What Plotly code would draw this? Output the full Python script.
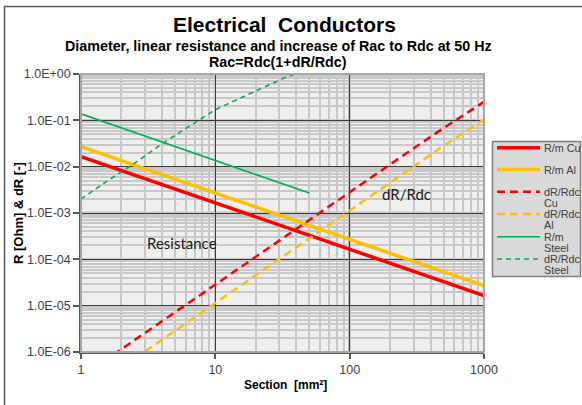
import plotly.graph_objects as go

# ---------------- data ----------------
sec_rm = [1, 2.5, 10, 25, 100, 250, 1000]
rm_cu = [1.65e-2, 6.6e-3, 1.65e-3, 6.6e-4, 1.65e-4, 6.6e-5, 1.65e-5]
rm_al = [2.7e-2, 1.08e-2, 2.7e-3, 1.08e-3, 2.7e-4, 1.08e-4, 2.7e-5]

sec_dr = [1, 10, 100, 300, 500, 1000]
dr_cu = [2.9e-7, 2.9e-5, 2.9e-3, 2.5e-2, 6.8e-2, 0.25]
dr_al = [1.15e-7, 1.15e-5, 1.1e-3, 1.0e-2, 2.8e-2, 0.105]

sec_st = [1, 1.5, 2.5, 4, 6, 10, 16, 25, 35, 50]
rm_st = [0.138, 0.092, 0.055, 0.0345, 0.023, 0.0138, 0.0086, 0.0055, 0.0039, 0.0027]
dr_st = [0.002, 0.0045, 0.0118, 0.031, 0.066, 0.17, 0.32, 0.58, 0.9, 1.25]

y_tickvals = [1e-6, 1e-5, 1e-4, 1e-3, 1e-2, 1e-1, 1]
y_ticktext = ["1.0E-06", "1.0E-05", "1.0E-04", "1.0E-03", "1.0E-02", "1.0E-01", "1.0E+00"]
x_tickvals = [1, 10, 100, 1000]
x_ticktext = ["1", "10", "100", "1000"]

legend_names = [["R/m Cu"], ["R/m Al"], ["dR/Rdc", "Cu"], ["dR/Rdc", "Al"],
                ["R/m", "Steel"], ["dR/Rdc", "Steel"]]

# ---------------- styles ----------------
RED = "#FF0000"
YEL = "#FFC000"
GRN = "#00B050"
styles = [
    dict(color=RED, width=3.5),
    dict(color=YEL, width=3.5),
    dict(color=RED, width=2.5, dash="8px,5px"),
    dict(color=YEL, width=2.5, dash="8px,5px"),
    dict(color=GRN, width=1.6),
    dict(color=GRN, width=1.6, dash="5px,4px"),
]
series = [(sec_rm, rm_cu), (sec_rm, rm_al), (sec_dr, dr_cu), (sec_dr, dr_al),
          (sec_st, rm_st), (sec_st, dr_st)]

W, H = 582, 405
L, R, T, B = 81, 98, 74, 53
PW, PH = W - L - R, H - T - B


def px(xp):
    return (xp - L) / PW


def py(yp):
    return (H - B - yp) / PH


def note(text, x, y, size, family="Liberation Sans, Arial", color="#000", xanchor="center", **kw):
    return dict(text=text, x=px(x), y=py(y), xref="paper", yref="paper", showarrow=False,
                xanchor=xanchor, yanchor="middle",
                font=dict(family=family, size=size, color=color), **kw)


fig = go.Figure()
for (xs, ys), st, nm in zip(series, styles, legend_names):
    fig.add_trace(go.Scatter(x=xs, y=ys, mode="lines", line=st,
                             name=" ".join(nm), showlegend=False))

ann = []
shapes = []
# titles
ann.append(note("<b>Electrical  Conductors</b>", 284, 24, 21))
ann.append(note("<b>Diameter, linear resistance and increase of Rac to Rdc at 50 Hz</b>", 278, 46.5, 14.3))
ann.append(note("<b>Rac=Rdc(1+dR/Rdc)</b>", 278, 61.5, 14.3))
# axis titles
ann.append(note("<b>R [Ohm] & dR [-]</b>", 18, 213, 13, textangle=-90))
ann.append(note("<b>Section  [mm²]</b>", 285, 385, 12))
# in-plot labels
ann.append(note("Resistance", 145, 243, 15, family="Lato, Open Sans", color="#1a1a1a", xanchor="left"))
ann.append(note("dR/Rdc", 380, 194, 15, family="Lato, Open Sans", color="#1a1a1a", xanchor="left"))

# emphasised grid lines
shapes.append(dict(type="line", xref="x", yref="paper", x0=100, x1=100, y0=0, y1=1,
                   line=dict(color="#8c8c8c", width=2.5), layer="below"))
shapes.append(dict(type="line", xref="paper", yref="y", x0=0, x1=1, y0=1e-3, y1=1e-3,
                   line=dict(color="#8c8c8c", width=2.5), layer="below"))
# plot-area border (top/right)
shapes.append(dict(type="rect", xref="paper", yref="paper", x0=0, x1=1, y0=0, y1=1,
                   line=dict(color="#a6a6a6", width=2)))
# outer chart frame
shapes.append(dict(type="rect", xref="paper", yref="paper", x0=px(4.5), x1=px(592), y0=py(415), y1=py(6.5),
                   line=dict(color="#595959", width=1.5)))

# legend (drawn manually)
lx0, ly0, lx1, ly1 = 492.5, 141.5, 580.5, 276.5
shapes.append(dict(type="rect", xref="paper", yref="paper", x0=px(lx0), x1=px(lx1), y0=py(ly1), y1=py(ly0),
                   fillcolor="#d9d9d9", line=dict(color="#7f7f7f", width=1.5)))
row_y = [147.7, 169.5, 191.7, 214, 236.7, 259]
for ry, st, nm in zip(row_y, styles, legend_names):
    shapes.append(dict(type="line", xref="paper", yref="paper", x0=px(497), x1=px(540),
                       y0=py(ry), y1=py(ry), line=st))
    for k, part in enumerate(nm):
        ann.append(note(part, 542, ry + 11.3 * k, 10.8, color="#404040", xanchor="left"))

fig.update_layout(
    width=W, height=H, margin=dict(l=L, r=R, t=T, b=B, pad=0),
    paper_bgcolor="white", plot_bgcolor="#efefef",
    annotations=ann, shapes=shapes, showlegend=False,
)
fig.update_xaxes(type="log", range=[0, 3], tickvals=x_tickvals, ticktext=x_ticktext,
                 showline=True, linecolor="#595959", linewidth=1.5,
                 ticks="outside", ticklen=5, tickcolor="#595959", tickwidth=1.5,
                 showgrid=True, gridcolor="#3a3a3a", gridwidth=1.2,
                 minor=dict(dtick="D1", showgrid=True, gridcolor="#c8c8c8", gridwidth=1.5, ticks=""),
                 tickfont=dict(family="Liberation Sans, Arial", size=12.5, color="#404040"),
                 zeroline=False)
fig.update_yaxes(type="log", range=[-6, 0], tickvals=y_tickvals, ticktext=y_ticktext,
                 showline=True, linecolor="#595959", linewidth=1.5,
                 ticks="outside", ticklen=6, tickcolor="#595959", tickwidth=1.5,
                 showgrid=True, gridcolor="#3a3a3a", gridwidth=1.2,
                 minor=dict(dtick="D1", showgrid=True, gridcolor="#c8c8c8", gridwidth=1.5, ticks=""),
                 tickfont=dict(family="Liberation Sans, Arial", size=12.5, color="#404040"),
                 zeroline=False)

fig.write_html("out.html")
